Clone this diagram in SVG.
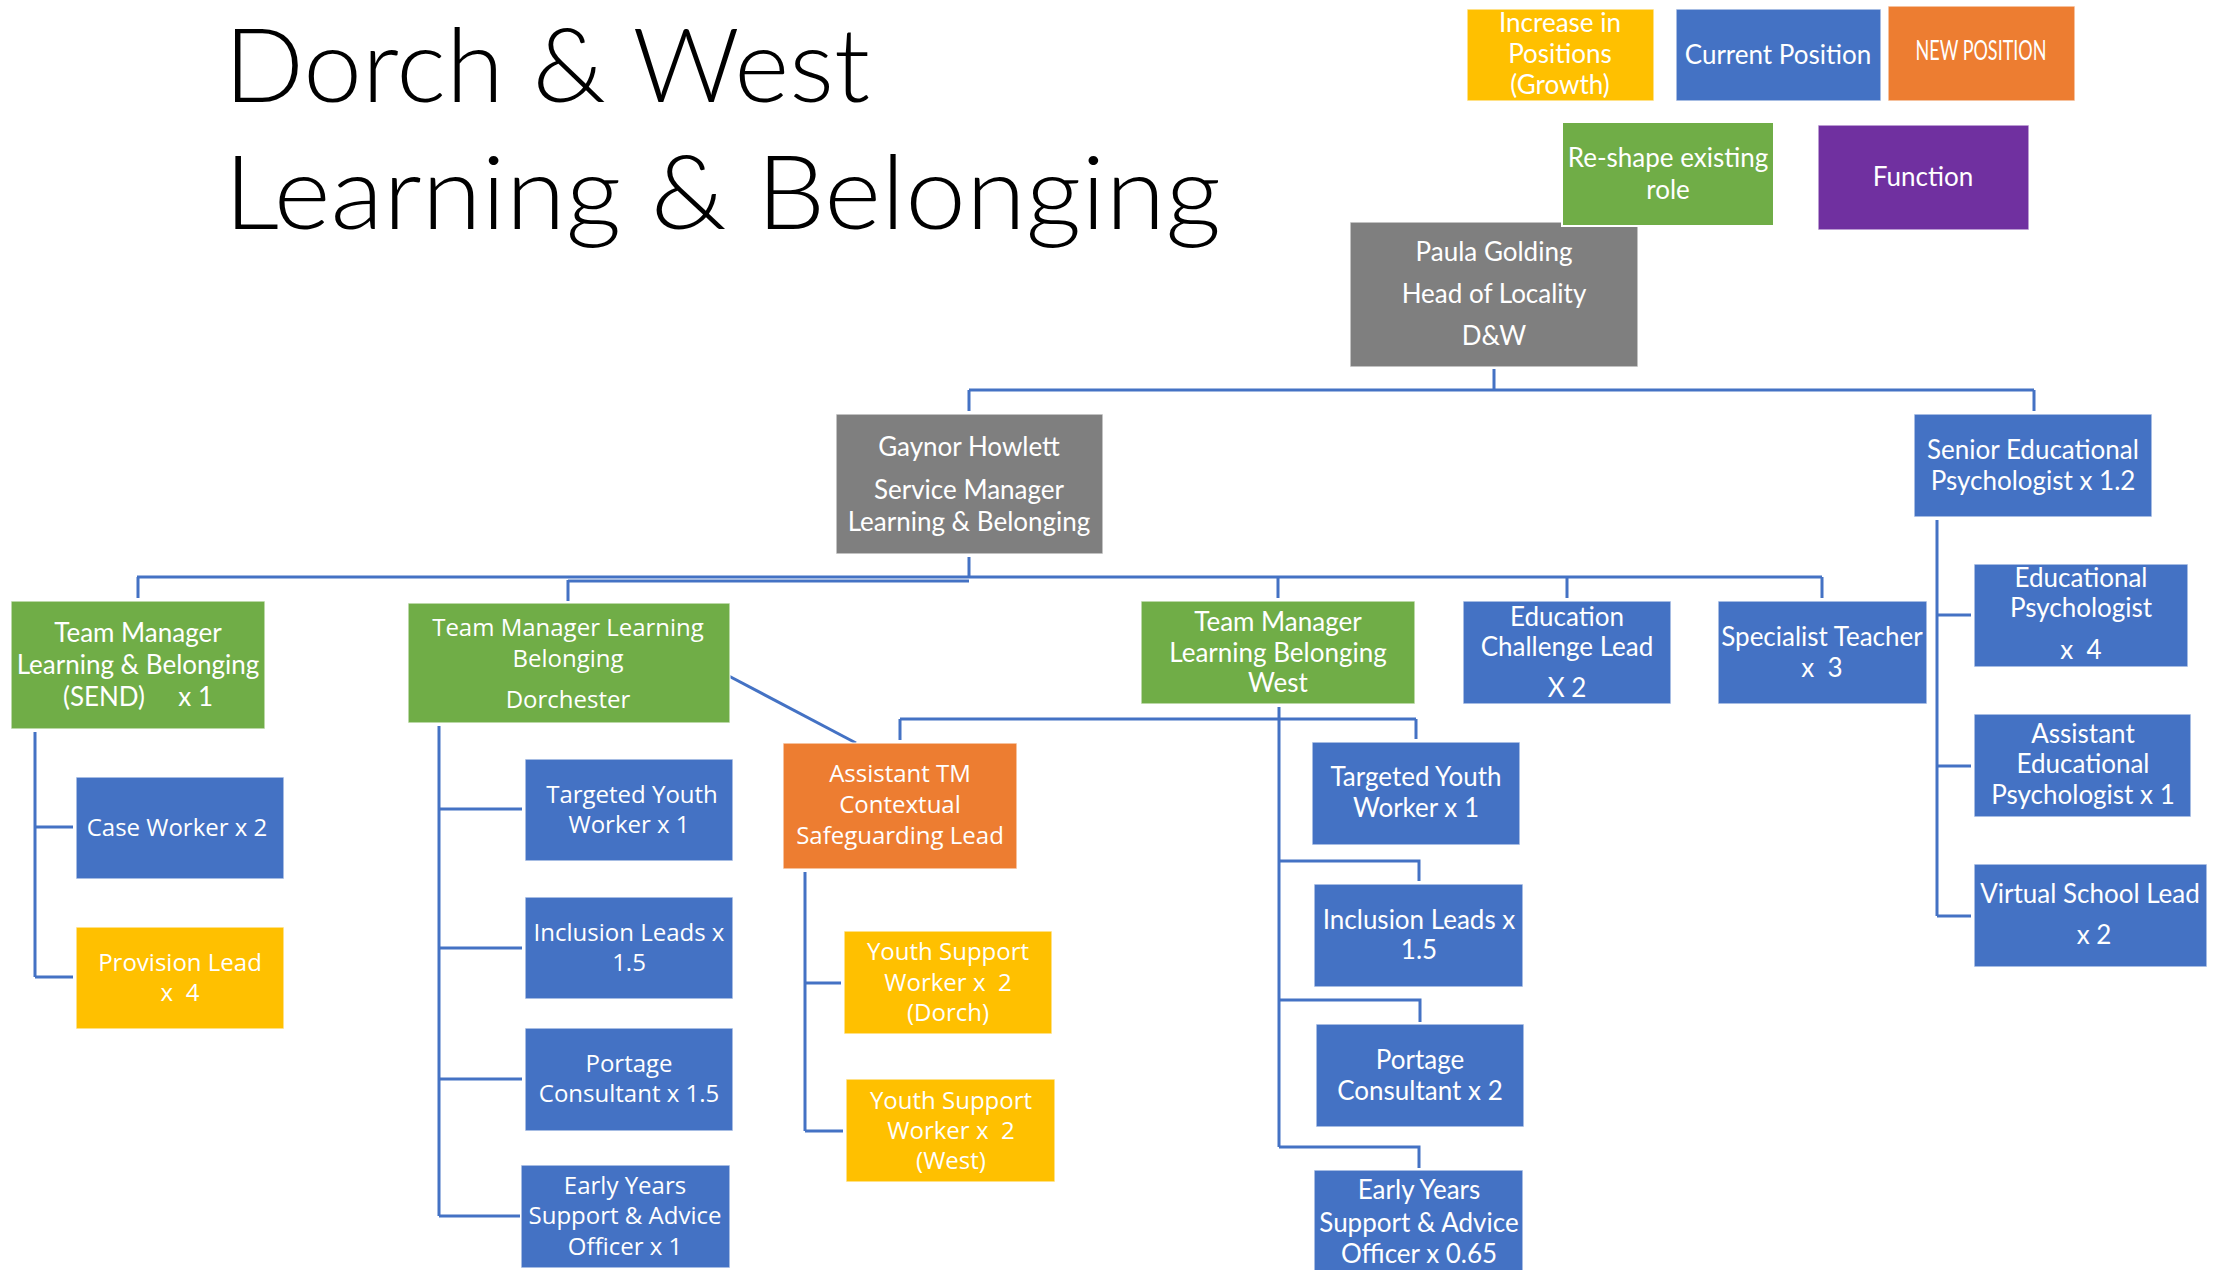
<svg xmlns="http://www.w3.org/2000/svg" width="2216" height="1270" viewBox="0 0 2216 1270">
<style>
.box{stroke:#ffffff;stroke-opacity:0.7;stroke-width:1.5}
.gray{fill:#7F7F7F}.blue{fill:#4472C4}.green{fill:#70AD47}.orange{fill:#ED7D31}.yellow{fill:#FFC000}.purple{fill:#7030A0}
.c{font-family:Lato,"Liberation Sans",sans-serif;font-size:26px;fill:#ffffff;text-anchor:middle}
.s{font-family:"Open Sans","Liberation Sans",sans-serif;font-size:24px;fill:#ffffff;text-anchor:middle}
.title{font-family:Lato,"Liberation Sans",sans-serif;font-weight:300;font-size:102px;fill:#000000}
.con path{fill:none;stroke:#4472C4;stroke-width:3}
</style>
<g id="title">
<text class="title" x="224" y="102" textLength="646" lengthAdjust="spacingAndGlyphs">Dorch &amp; West</text>
<text class="title" x="224" y="229" textLength="997" lengthAdjust="spacingAndGlyphs">Learning &amp; Belonging</text>
</g>
<g class="con" id="connectors">
<path d="M1494 369V390M969 390H2034M969 390V411M2034 390V411"/>
<path d="M969 557V578M137 577H1822M568 581H969M138 577V598M568 580V601M1278 577V598M1567 577V598M1822 577V598"/>
<path d="M35 732V977M35 827H73M35 977H73"/>
<path d="M439 726V1216M439 809H522M439 948H522M439 1079H522M439 1216H520"/>
<path d="M725 674L856 743"/>
<path d="M1279 707V1147M900 719H1416M900 719V740M1416 719V739M1279 861H1419V881M1279 1000H1420V1022M1279 1147H1419V1168"/>
<path d="M805 872V1131M805 983H841M805 1131H843"/>
<path d="M1937 520V916M1937 615H1971M1937 766H1971M1937 916H1971"/>
</g>
<g id="legend-growth"><rect class="box yellow" x="1467" y="9" width="187" height="92"/>
<text class="c" font-size="25" x="1560" y="32">Increase in</text><text class="c" font-size="25" x="1560" y="63">Positions</text><text class="c" font-size="25" x="1560" y="94">(Growth)</text></g>
<g id="legend-current"><rect class="box blue" x="1676" y="9" width="205" height="92"/>
<text class="c" font-size="25" x="1778" y="64">Current Position</text></g>
<g id="legend-new"><rect class="box orange" x="1888" y="6" width="187" height="95"/>
<text class="c" font-size="18" x="1981" y="60" textLength="131" lengthAdjust="spacingAndGlyphs">NEW POSITION</text></g>
<g id="paula"><rect class="box gray" x="1350" y="222" width="288" height="145"/>
<text class="c" x="1494" y="261">Paula Golding</text><text class="c" x="1494" y="303">Head of Locality</text><text class="c" x="1494" y="345">D&amp;W</text></g>
<g id="legend-reshape"><rect class="green" x="1562" y="122" width="212" height="104" stroke="#ffffff" stroke-width="2"/>
<text class="c" x="1668" y="167">Re-shape existing</text><text class="c" x="1668" y="199">role</text></g>
<g id="legend-function"><rect class="box purple" x="1818" y="125" width="211" height="105"/>
<text class="c" font-size="25" x="1923" y="186">Function</text></g>
<g id="gaynor"><rect class="box gray" x="836" y="414" width="267" height="140"/>
<text class="c" x="969" y="456">Gaynor Howlett</text><text class="c" x="969" y="499">Service Manager</text><text class="c" x="969" y="531">Learning &amp; Belonging</text></g>
<g id="senior-ep"><rect class="box blue" x="1914" y="414" width="238" height="103"/>
<text class="c" x="2033" y="459">Senior Educational</text><text class="c" x="2033" y="490">Psychologist x 1.2</text></g>
<g id="tm-send"><rect class="box green" x="11" y="601" width="254" height="128"/>
<text class="c" x="138" y="642">Team Manager</text><text class="c" x="138" y="674">Learning &amp; Belonging</text><text class="c" x="138" y="706" xml:space="preserve">(SEND)     x 1</text></g>
<g id="tm-dorch"><rect class="box green" x="408" y="603" width="322" height="120"/>
<text class="s" x="568" y="636">Team Manager Learning</text><text class="s" x="568" y="667">Belonging</text><text class="s" x="568" y="708">Dorchester</text></g>
<g id="tm-west"><rect class="box green" x="1141" y="601" width="274" height="103"/>
<text class="c" x="1278" y="631">Team Manager</text><text class="c" x="1278" y="662">Learning Belonging</text><text class="c" x="1278" y="692">West</text></g>
<g id="ed-challenge"><rect class="box blue" x="1463" y="601" width="208" height="103"/>
<text class="c" x="1567" y="626">Education</text><text class="c" x="1567" y="656">Challenge Lead</text><text class="c" x="1567" y="697">X 2</text></g>
<g id="specialist"><rect class="box blue" x="1718" y="601" width="209" height="103"/>
<text class="c" x="1822" y="646">Specialist Teacher</text><text class="c" x="1822" y="677" xml:space="preserve">x  3</text></g>
<g id="ep"><rect class="box blue" x="1974" y="564" width="214" height="103"/>
<text class="c" x="2081" y="587">Educational</text><text class="c" x="2081" y="617">Psychologist</text><text class="c" x="2081" y="659" xml:space="preserve">x  4</text></g>
<g id="asst-ep"><rect class="box blue" x="1974" y="714" width="217" height="103"/>
<text class="c" x="2083" y="743">Assistant</text><text class="c" x="2083" y="773">Educational</text><text class="c" x="2083" y="804">Psychologist x 1</text></g>
<g id="vsl"><rect class="box blue" x="1974" y="864" width="233" height="103"/>
<text class="c" x="2090" y="903">Virtual School Lead</text><text class="c" x="2094" y="944">x 2</text></g>
<g id="case-worker"><rect class="box blue" x="76" y="777" width="208" height="102"/>
<text class="s" x="177" y="836">Case Worker x 2</text></g>
<g id="provision"><rect class="box yellow" x="76" y="927" width="208" height="102"/>
<text class="s" x="180" y="971">Provision Lead</text><text class="s" x="180" y="1001" xml:space="preserve">x  4</text></g>
<g id="tyw-dorch"><rect class="box blue" x="525" y="759" width="208" height="102"/>
<text class="s" x="632" y="803">Targeted Youth</text><text class="s" x="629" y="833">Worker x 1</text></g>
<g id="incl-dorch"><rect class="box blue" x="525" y="897" width="208" height="102"/>
<text class="s" x="629" y="941">Inclusion Leads x</text><text class="s" x="629" y="971">1.5</text></g>
<g id="portage-dorch"><rect class="box blue" x="525" y="1028" width="208" height="103"/>
<text class="s" x="629" y="1072">Portage</text><text class="s" x="629" y="1102">Consultant x 1.5</text></g>
<g id="ey-dorch"><rect class="box blue" x="521" y="1165" width="209" height="103"/>
<text class="s" x="625" y="1194">Early Years</text><text class="s" x="625" y="1224">Support &amp; Advice</text><text class="s" x="625" y="1255">Officer x 1</text></g>
<g id="asst-tm"><rect class="box orange" x="783" y="743" width="234" height="126"/>
<text class="s" x="900" y="782">Assistant TM</text><text class="s" x="900" y="813">Contextual</text><text class="s" x="900" y="844">Safeguarding Lead</text></g>
<g id="ysw-dorch"><rect class="box yellow" x="844" y="931" width="208" height="103"/>
<text class="s" x="948" y="960">Youth Support</text><text class="s" x="948" y="991" xml:space="preserve">Worker x  2</text><text class="s" x="948" y="1021">(Dorch)</text></g>
<g id="ysw-west"><rect class="box yellow" x="846" y="1079" width="209" height="103"/>
<text class="s" x="951" y="1109">Youth Support</text><text class="s" x="951" y="1139" xml:space="preserve">Worker x  2</text><text class="s" x="951" y="1169">(West)</text></g>
<g id="tyw-west"><rect class="box blue" x="1312" y="742" width="208" height="103"/>
<text class="c" x="1416" y="786">Targeted Youth</text><text class="c" x="1416" y="817">Worker x 1</text></g>
<g id="incl-west"><rect class="box blue" x="1314" y="884" width="209" height="103"/>
<text class="c" x="1419" y="929">Inclusion Leads x</text><text class="c" x="1419" y="959">1.5</text></g>
<g id="portage-west"><rect class="box blue" x="1316" y="1024" width="208" height="103"/>
<text class="c" x="1420" y="1069">Portage</text><text class="c" x="1420" y="1100">Consultant x 2</text></g>
<g id="ey-west"><rect class="box blue" x="1314" y="1170" width="209" height="110"/>
<text class="c" x="1419" y="1199">Early Years</text><text class="c" x="1419" y="1232">Support &amp; Advice</text><text class="c" x="1419" y="1263">Officer x 0.65</text></g>
</svg>
